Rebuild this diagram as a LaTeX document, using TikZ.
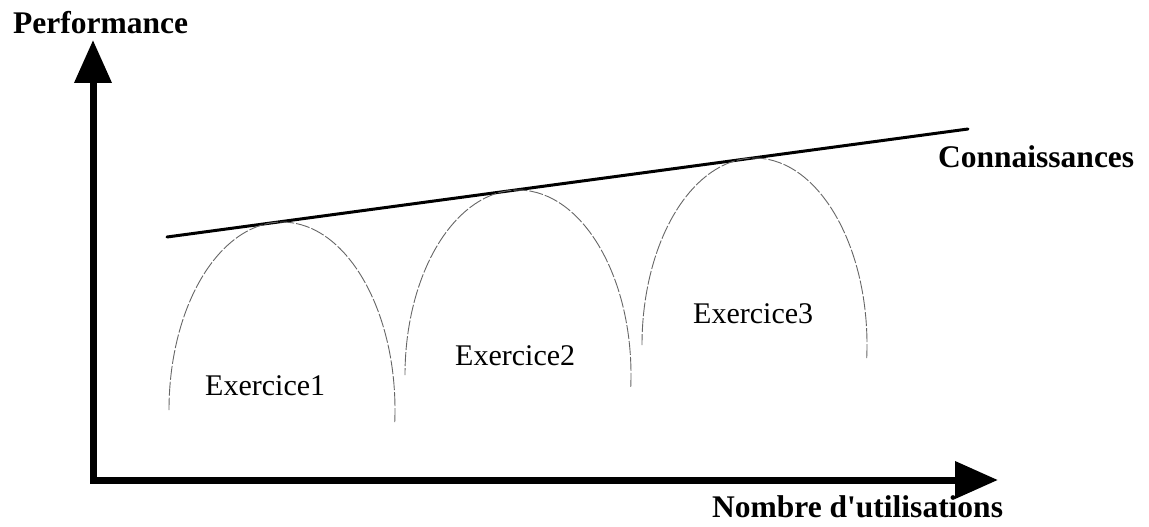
\documentclass[tikz,border=0pt]{standalone}
\usepackage{fontspec}
\setmainfont{Liberation Serif}
% family without TeX quote mapping, so ' stays a straight quote
\newfontfamily\labelserif{Liberation Serif}
\usetikzlibrary{arrows.meta}

\tikzset{
  axis/.style={line width=7pt, line join=miter,
    {Triangle[length=43pt,width=36pt]}-{Triangle[length=43pt,width=36pt]}},
  trend/.style={line width=3pt, line cap=round},
  hump/.style={draw=black!60, line width=0.9pt, dash pattern=on 14pt off 2pt},
  axislabel/.style={font=\labelserif\fontsize{31.5}{36}\selectfont\bfseries, inner sep=0pt, anchor=base west},
  exlabel/.style={font=\labelserif\fontsize{30}{34}\selectfont, inner sep=0pt, anchor=base west}
}

\begin{document}
\begin{tikzpicture}[x=1pt,y=1pt]
\useasboundingbox (0,0) rectangle (1149,-527);

% axes
\coordinate (origin) at (93,-480);
\coordinate (ytip) at (93,-40);
\coordinate (xtip) at (998,-480);
\draw[axis] (ytip) -- (origin) -- (xtip);

\node[axislabel] (perf) at (13,-34) {Performance};
\node[axislabel] (nbr) at (712,-517) {Nombre d'utilisations};

% knowledge trend line
\coordinate (kA) at (167,-237);
\coordinate (kB) at (968,-129);
\draw[trend] (kA) -- (kB);
\node[axislabel] (conn) at (938,-167) {Connaissances};

% one performance curve per exercise
\coordinate (c1) at (282,-410);
\coordinate (c2) at (518,-375);
\coordinate (c3) at (754.5,-345);
\draw[hump] (c1) ++(-3.7:113pt and 188pt)
  arc[start angle=-3.7, end angle=180, x radius=113pt, y radius=188pt];
\draw[hump] (c2) ++(-3.7:113pt and 185pt)
  arc[start angle=-3.7, end angle=180, x radius=113pt, y radius=185pt];
\draw[hump] (c3) ++(-4:112.5pt and 187pt)
  arc[start angle=-4, end angle=180, x radius=112.5pt, y radius=187pt];

\node[exlabel] (ex1) at (205,-395) {Exercice1};
\node[exlabel] (ex2) at (455,-365) {Exercice2};
\node[exlabel] (ex3) at (693,-323) {Exercice3};
\end{tikzpicture}
\end{document}
